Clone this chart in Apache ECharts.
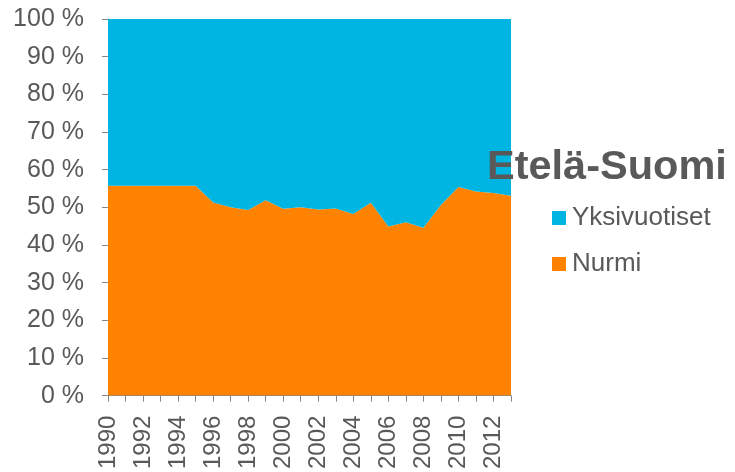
<!DOCTYPE html>
<html>
<head>
<meta charset="utf-8">
<script src="https://cdn.jsdelivr.net/npm/echarts@6/dist/echarts.min.js"></script>
<style>
  html, body { margin: 0; padding: 0; background: #fff; }
  #chart { width: 735px; height: 472px; }
</style>
</head>
<body>
<div id="chart"></div>
<script>
const years = ['1990', '1991', '1992', '1993', '1994', '1995', '1996', '1997', '1998', '1999', '2000', '2001',
    '2002', '2003', '2004', '2005', '2006', '2007', '2008', '2009', '2010', '2011', '2012', '2013'];
const nurmi = [55.7, 55.7, 55.7, 55.7, 55.7, 55.7, 51.3, 50.0, 49.3, 51.9, 49.6, 50.0,
    49.4, 49.7, 48.2, 51.2, 44.9, 46.0, 44.6, 50.6, 55.4, 54.2, 53.8, 53.1];
const yksivuotiset = [44.3, 44.3, 44.3, 44.3, 44.3, 44.3, 48.7, 50.0, 50.7, 48.1, 50.4, 50.0,
    50.6, 50.3, 51.8, 48.8, 55.1, 54.0, 55.4, 49.4, 44.6, 45.8, 46.2, 46.9];

const textColor = '#595959';
const axisColor = '#868686';
const font = 'Liberation Sans, Arial, sans-serif';

const chart = echarts.init(document.getElementById('chart'));

chart.setOption({
    animation: false,
    title: {
        text: 'Etelä-Suomi',
        left: 487,
        top: 147,
        padding: 0,
        textStyle: { color: textColor, fontSize: 41.5, fontWeight: 'bold', fontFamily: font }
    },
    legend: {
        orient: 'vertical',
        left: 552,
        top: 205,
        padding: 0,
        itemWidth: 14,
        itemHeight: 14,
        itemGap: 20,
        icon: 'rect',
        data: ['Yksivuotiset', 'Nurmi'],
        textStyle: { color: textColor, fontSize: 26, fontFamily: font, padding: [0, 0, 0, 1] }
    },
    grid: { left: 108, right: 224, top: 19, bottom: 73, containLabel: false },
    xAxis: {
        type: 'category',
        data: years,
        boundaryGap: false,
        axisLine: { lineStyle: { color: axisColor } },
        axisTick: { alignWithLabel: true, interval: 0, length: 6, lineStyle: { color: axisColor } },
        axisLabel: {
            rotate: 90,
            interval: 1,
            margin: 20,
            color: textColor,
            fontSize: 24,
            fontFamily: font
        }
    },
    yAxis: {
        type: 'value',
        min: 0,
        max: 100,
        interval: 10,
        splitLine: { show: false },
        axisLine: { show: true, lineStyle: { color: axisColor } },
        axisTick: { show: true, length: 6, lineStyle: { color: axisColor } },
        axisLabel: {
            formatter: '{value} %',
            margin: 24,
            color: textColor,
            fontSize: 25,
            fontFamily: font
        }
    },
    series: [
        {
            name: 'Nurmi',
            type: 'line',
            stack: 'total',
            data: nurmi,
            symbol: 'none',
            lineStyle: { width: 0 },
            itemStyle: { color: '#FF8300' },
            areaStyle: { color: '#FF8300', opacity: 1 }
        },
        {
            name: 'Yksivuotiset',
            type: 'line',
            stack: 'total',
            data: yksivuotiset,
            symbol: 'none',
            lineStyle: { width: 0 },
            itemStyle: { color: '#00B5E2' },
            areaStyle: { color: '#00B5E2', opacity: 1 }
        }
    ]
});

window.addEventListener('resize', () => chart.resize());
</script>
</body>
</html>
